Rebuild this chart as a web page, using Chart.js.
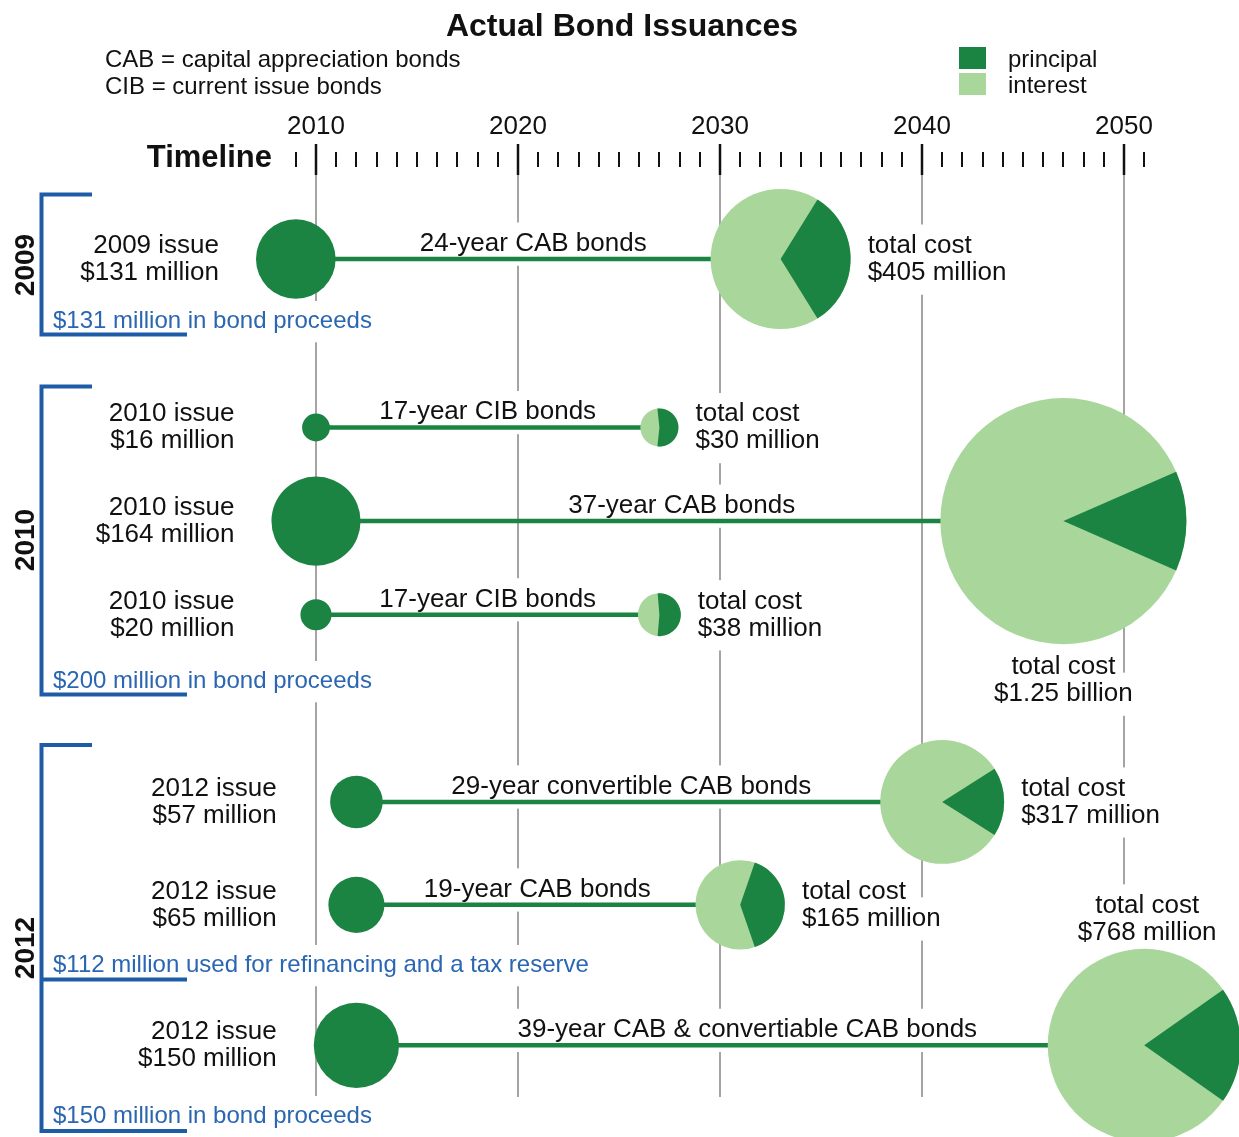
<!DOCTYPE html>
<html>
<head>
<meta charset="utf-8">
<title>Actual Bond Issuances</title>
<script src="https://cdn.jsdelivr.net/npm/chart.js@4.4.1/dist/chart.umd.min.js"></script>
<style>
  html, body { margin: 0; padding: 0; background: #fff; }
  #wrap { width: 1239px; height: 1137px; }
</style>
</head>
<body>
<div id="wrap"><canvas id="bondChart" width="1239" height="1137"></canvas></div>
<script>
// --- dados ---
const groupYears = ['2009', '2010', '2012'];
const groupNotes = [
  '$131 million in bond proceeds',
  '$200 million in bond proceeds',
  '$112 million used for refinancing and a tax reserve',
  '$150 million in bond proceeds'
];
const bondGroup = [0, 1, 1, 1, 2, 2, 2];
const issueYear = [2009, 2010, 2010, 2010, 2012, 2012, 2012];
const termYears = [24, 17, 37, 17, 29, 19, 39];
const bondType = ['CAB', 'CIB', 'CAB', 'CIB', 'convertible CAB', 'CAB', 'CAB & convertiable CAB'];
const principal = [131, 16, 164, 20, 57, 65, 150];      // $ million
const totalCost = [405, 30, 1250, 38, 317, 165, 768];   // $ million
const totalCostText = ['$405 million', '$30 million', '$1.25 billion', '$38 million',
  '$317 million', '$165 million', '$768 million'];
const decadeTicks = [2010, 2020, 2030, 2040, 2050];
const firstTick = 2009;
const lastTick = 2051;

// --- layout ---
const rowLane = [1, 2.8, 3.8, 4.8, 6.8, 7.9, 9.4];
const costLabelSide = ['right', 'right', 'below', 'right', 'right', 'right', 'above'];
const bondLabelShift = [-5, 0, -8, 0, -18, -11, -3]; // px, ajuste do rótulo da linha
const RADIUS_K = 3.48; // px por raiz de $ milhão
const FONT = '"Liberation Sans", Arial, sans-serif';
const DARK = '#1b8443';
const LIGHT = '#a9d69a';
const BLUE = '#1f5ca8';
const BLUE_TEXT = '#2a66b2';
const GRID = '#a4a4a4';
const INK = '#111';

const radiusFor = v => RADIUS_K * Math.sqrt(v);

// Linhas dos títulos (datasets de linha)
const bondLines = issueYear.map((y0, i) => ({
  data: [{ x: y0, y: rowLane[i] }, { x: y0 + termYears[i], y: rowLane[i] }],
  showLine: true,
  borderColor: DARK,
  borderWidth: 4.5,
  pointRadius: 0,
  order: 3
}));

const issueDots = {
  type: 'bubble',
  data: issueYear.map((y0, i) => ({ x: y0, y: rowLane[i], r: radiusFor(principal[i]) })),
  backgroundColor: DARK,
  borderWidth: 0,
  order: 2
};

const costPies = {
  type: 'bubble',
  data: issueYear.map((y0, i) => ({ x: y0 + termYears[i], y: rowLane[i], r: radiusFor(totalCost[i]) })),
  backgroundColor: LIGHT,
  borderWidth: 0,
  order: 1
};
const PIE_INDEX = bondLines.length + 1;

function setFont(ctx, item) {
  ctx.font = `${item.weight} ${item.size}px ${FONT}`;
}

// Todos os textos do gráfico
function buildLabels(chart) {
  const xs = chart.scales.x, ys = chart.scales.y;
  const items = [];
  const add = (text, x, y, opts) => items.push(Object.assign(
    { text, x, y, align: 'left', size: 26, weight: 'normal', color: INK, knock: true }, opts || {}));

  // rótulos das emissões (à esquerda)
  const groupRight = groupYears.map((g, gi) => {
    let m = Infinity;
    issueYear.forEach((y0, i) => {
      if (bondGroup[i] === gi) m = Math.min(m, xs.getPixelForValue(y0) - radiusFor(principal[i]));
    });
    return m - 37;
  });

  issueYear.forEach((y0, i) => {
    const cy = ys.getPixelForValue(rowLane[i]);
    const x0 = xs.getPixelForValue(y0);
    const x1 = xs.getPixelForValue(y0 + termYears[i]);
    const rx = groupRight[bondGroup[i]];
    add(`${groupYears[bondGroup[i]]} issue`, rx, cy - 6, { align: 'right', knock: false });
    add(`$${principal[i]} million`, rx, cy + 21, { align: 'right', knock: false });

    add(`${termYears[i]}-year ${bondType[i]} bonds`, (x0 + x1) / 2 + bondLabelShift[i], cy - 8,
      { align: 'center', knockTo: cy + 2 });

    const r = radiusFor(totalCost[i]);
    const side = costLabelSide[i];
    if (side === 'right') {
      add('total cost', x1 + r + 17, cy - 6);
      add(totalCostText[i], x1 + r + 17, cy + 21);
    } else if (side === 'below') {
      add('total cost', x1, cy + r + 30, { align: 'center' });
      add(totalCostText[i], x1, cy + r + 57, { align: 'center' });
    } else {
      add('total cost', x1 + 3, cy - r - 36, { align: 'center' });
      add(totalCostText[i], x1 + 3, cy - r - 9, { align: 'center' });
    }
  });

  const noteY = [328, 688, 972, 1123];
  groupNotes.forEach((t, i) => add(t, 53, noteY[i], { size: 24, color: BLUE_TEXT }));
  return items;
}

function drawBrackets(ctx) {
  const brackets = [
    { top: 194.5, bottom: 334.5, mids: [] },
    { top: 386.5, bottom: 694.5, mids: [] },
    { top: 745, bottom: 1131, mids: [979.5] }
  ];
  ctx.save();
  ctx.strokeStyle = BLUE;
  ctx.lineWidth = 4;
  ctx.lineJoin = 'miter';
  brackets.forEach(b => {
    ctx.beginPath();
    ctx.moveTo(92, b.top);
    ctx.lineTo(41.5, b.top);
    ctx.lineTo(41.5, b.bottom);
    ctx.lineTo(187, b.bottom);
    b.mids.forEach(m => { ctx.moveTo(41.5, m); ctx.lineTo(187, m); });
    ctx.stroke();
  });
  // anos na vertical
  const yearCenters = [265, 540, 948];
  ctx.fillStyle = INK;
  ctx.font = `bold 28px ${FONT}`;
  ctx.textAlign = 'center';
  ctx.textBaseline = 'middle';
  groupYears.forEach((g, i) => {
    ctx.save();
    ctx.translate(25, yearCenters[i]);
    ctx.rotate(-Math.PI / 2);
    ctx.fillText(g, 0, 1);
    ctx.restore();
  });
  ctx.restore();
}

const bondPlugin = {
  id: 'bondPlugin',
  beforeDatasetsDraw(chart) {
    const ctx = chart.ctx, xs = chart.scales.x;
    ctx.save();
    // grade das décadas
    ctx.strokeStyle = GRID;
    ctx.lineWidth = 2;
    decadeTicks.forEach(yr => {
      const x = Math.round(xs.getPixelForValue(yr));
      ctx.beginPath();
      ctx.moveTo(x, 175);
      ctx.lineTo(x, 1097);
      ctx.stroke();
    });
    // fundos brancos atrás dos textos
    ctx.fillStyle = '#fff';
    buildLabels(chart).forEach(it => {
      if (!it.knock) return;
      setFont(ctx, it);
      const w = ctx.measureText(it.text).width;
      let left = it.x;
      if (it.align === 'center') left -= w / 2;
      if (it.align === 'right') left -= w;
      const top = it.y - it.size * 0.75 - 9;
      let bottom = it.y + it.size * 0.22 + 9;
      if (it.knockTo) bottom = Math.max(bottom, it.knockTo);
      ctx.fillRect(left - 6, top, w + 12, bottom - top);
    });
    ctx.restore();
  },
  afterDatasetsDraw(chart) {
    const ctx = chart.ctx, xs = chart.scales.x;
    ctx.save();
    // fatias do principal
    const meta = chart.getDatasetMeta(PIE_INDEX);
    meta.data.forEach((el, i) => {
      const r = el.options.radius;
      const half = Math.PI * principal[i] / totalCost[i];
      ctx.beginPath();
      ctx.moveTo(el.x, el.y);
      ctx.arc(el.x, el.y, r, -half, half);
      ctx.closePath();
      ctx.fillStyle = DARK;
      ctx.fill();
    });

    // escala do tempo
    ctx.strokeStyle = INK;
    for (let yr = firstTick; yr <= lastTick; yr++) {
      const x = Math.round(xs.getPixelForValue(yr));
      const major = decadeTicks.includes(yr);
      ctx.lineWidth = major ? 2.5 : 2;
      ctx.beginPath();
      ctx.moveTo(x, major ? 144 : 152);
      ctx.lineTo(x, major ? 175 : 167);
      ctx.stroke();
    }
    ctx.fillStyle = INK;
    ctx.textBaseline = 'alphabetic';
    ctx.textAlign = 'center';
    ctx.font = `26px ${FONT}`;
    decadeTicks.forEach(yr => ctx.fillText(String(yr), xs.getPixelForValue(yr), 134));
    ctx.textAlign = 'right';
    ctx.font = `bold 31px ${FONT}`;
    ctx.fillText('Timeline', 272, 167);

    // título e notas
    ctx.textAlign = 'center';
    ctx.font = `bold 32px ${FONT}`;
    ctx.fillText('Actual Bond Issuances', 622, 36);
    ctx.textAlign = 'left';
    ctx.font = `24px ${FONT}`;
    ctx.fillText('CAB = capital appreciation bonds', 105, 67);
    ctx.fillText('CIB = current issue bonds', 105, 94);

    // legenda
    ctx.fillStyle = DARK;
    ctx.fillRect(959, 47, 27, 22);
    ctx.fillStyle = LIGHT;
    ctx.fillRect(959, 73, 27, 22);
    ctx.fillStyle = INK;
    ctx.fillText('principal', 1008, 67);
    ctx.fillText('interest', 1008, 93);

    drawBrackets(ctx);

    // textos
    buildLabels(chart).forEach(it => {
      setFont(ctx, it);
      ctx.fillStyle = it.color;
      ctx.textAlign = it.align;
      ctx.textBaseline = 'alphabetic';
      ctx.fillText(it.text, it.x, it.y);
    });
    ctx.restore();
  }
};

new Chart(document.getElementById('bondChart').getContext('2d'), {
  type: 'scatter',
  data: { datasets: [...bondLines, issueDots, costPies] },
  options: {
    responsive: false,
    animation: false,
    events: [],
    layout: { padding: 0, autoPadding: false },
    scales: {
      x: { type: 'linear', display: false, min: 1994.356, max: 2055.693 },
      y: { type: 'linear', display: false, min: -1.767, max: 10.380, reverse: true }
    },
    plugins: { legend: { display: false }, tooltip: { enabled: false }, title: { display: false } }
  },
  plugins: [bondPlugin]
});
</script>
</body>
</html>
